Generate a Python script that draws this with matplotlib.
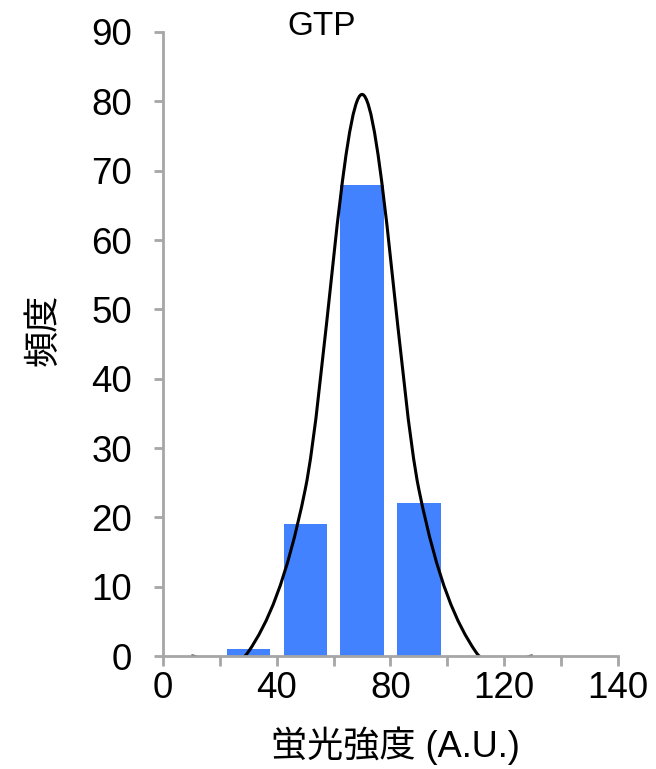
import matplotlib
matplotlib.use("Agg")
import matplotlib.pyplot as plt
from matplotlib.path import Path
from matplotlib.patches import PathPatch
import numpy as np

plt.rcParams['font.family'] = ['Liberation Sans', 'Noto Sans CJK JP', 'DejaVu Sans']

# histogram bins (category index on the x axis) and counts
bin_pos = [0.5, 1.5, 2.5, 3.5, 4.5, 5.5, 6.5, 7.5]
counts = [0, 1, 19, 68, 22, 0, 0, 0]

# fitted curve values at the bin centres (Excel smoothed line)
fit_pos = [0.5, 1.5, 2.5, 3.5, 4.5, 5.5, 6.5]
fit_val = [0, 0.6, 24, 81, 24, 0.6, 0]

tick_pos = [0, 1, 2, 3, 4, 5, 6, 7, 8]
tick_lab = ["0", "", "40", "", "80", "", "120", "", "140"]

blue = '#4282FF'
grey = '#A6A6A6'

fig = plt.figure(figsize=(6.56, 7.69), dpi=100)
ax = fig.add_axes([0.2485, 0.1469, 0.6935, 0.8115])

ax.bar(bin_pos, counts, width=0.76, color=blue, zorder=2)

# smoothed line: cubic bezier segments like Excel's "smoothed line"
pts = np.column_stack([fit_pos, fit_val])
n = len(pts)
verts = [pts[0]]
codes = [Path.MOVETO]
for i in range(n - 1):
    p0 = pts[max(i - 1, 0)]
    p1 = pts[i]
    p2 = pts[i + 1]
    p3 = pts[min(i + 2, n - 1)]
    c1 = p1 + (p2 - p0) / 6.0
    c2 = p2 - (p3 - p1) / 6.0
    verts += [c1, c2, p2]
    codes += [Path.CURVE4, Path.CURVE4, Path.CURVE4]
curve = PathPatch(Path(verts, codes), fill=False, edgecolor='black', lw=2.2, zorder=3)
ax.add_patch(curve)

ax.set_xlim(0, 8)
ax.set_ylim(0, 90)
ax.set_xticks(tick_pos)
ax.set_xticklabels(tick_lab)
ax.set_yticks(range(0, 91, 10))

for s in ['top', 'right']:
    ax.spines[s].set_visible(False)
for s in ['left', 'bottom']:
    ax.spines[s].set_color(grey)
    ax.spines[s].set_linewidth(2)
ax.spines['bottom'].set_zorder(4)

ax.tick_params(axis='x', direction='out', length=7, width=2, color=grey, labelsize=26.5, pad=4)
ax.tick_params(axis='y', direction='out', length=6.5, width=2, color=grey, labelsize=26.5, pad=16)

ax.set_xlabel('蛍光強度 (A.U.)', fontsize=26)
ax.set_ylabel('頻度', fontsize=26)
ax.xaxis.set_label_coords(0.51, -0.113)
ax.yaxis.set_label_coords(-0.222, 0.522)

fig.text(0.491, 0.966, 'GTP', fontsize=24, ha='center', va='center')

plt.savefig("out.png", dpi=100)
